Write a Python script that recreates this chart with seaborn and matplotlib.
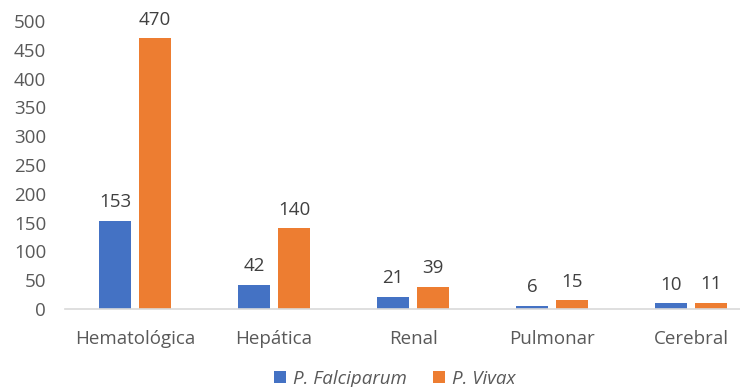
import matplotlib
matplotlib.use("Agg")
import matplotlib.pyplot as plt
import seaborn as sns
import pandas as pd
from matplotlib.patches import Patch

categories = ["Hematológica", "Hepática", "Renal", "Pulmonar", "Cerebral"]
falciparum = [153, 42, 21, 6, 10]
vivax = [470, 140, 39, 15, 11]
series_names = ["P. Falciparum", "P. Vivax"]
y_ticks = [0, 50, 100, 150, 200, 250, 300, 350, 400, 450, 500]

colors = ["#4472C4", "#ED7D31"]
text_color = "#595959"

df = pd.DataFrame({
    "Categoria": categories * 2,
    "Casos": falciparum + vivax,
    "Especie": [series_names[0]] * len(categories) + [series_names[1]] * len(categories),
})

sns.set_style("white")
plt.rcParams["font.family"] = ["Open Sans", "DejaVu Sans"]

fig = plt.figure(figsize=(7.4, 3.87), dpi=100)
ax = fig.add_axes([65.5 / 740, 1 - 309 / 387, 1 - 65.5 / 740, (309 - 21) / 387])

sns.barplot(data=df, x="Categoria", y="Casos", hue="Especie",
            palette=colors, width=0.576, gap=0.2, ax=ax, legend=False,
            saturation=1, linewidth=0)

for container in ax.containers:
    ax.bar_label(container, padding=7, fontsize=13.5, color="#404040")

ax.set_ylim(0, 500)
ax.set_xlim(-0.5, (740 - 65.5) / 139 - 0.5)
ax.set_yticks(y_ticks)
ax.set_xlabel("")
ax.set_ylabel("")
ax.tick_params(axis="both", length=0, labelsize=13.5, colors=text_color)
ax.tick_params(axis="y", pad=14)
ax.tick_params(axis="x", pad=15)
for side in ["top", "right", "left"]:
    ax.spines[side].set_visible(False)
ax.spines["bottom"].set_color("#D9D9D9")
ax.spines["bottom"].set_linewidth(1.2)

handles = [Patch(facecolor=c, edgecolor="none") for c in colors]
leg = fig.legend(handles, series_names, loc="center", bbox_to_anchor=(395 / 740, 1 - 379 / 387),
                 ncol=2, frameon=False, handlelength=0.6, handleheight=0.6,
                 handletextpad=0.4, columnspacing=1.4,
                 prop={"style": "italic", "size": 13.5})
for t in leg.get_texts():
    t.set_color(text_color)

fig.savefig("out.png", dpi=100)
